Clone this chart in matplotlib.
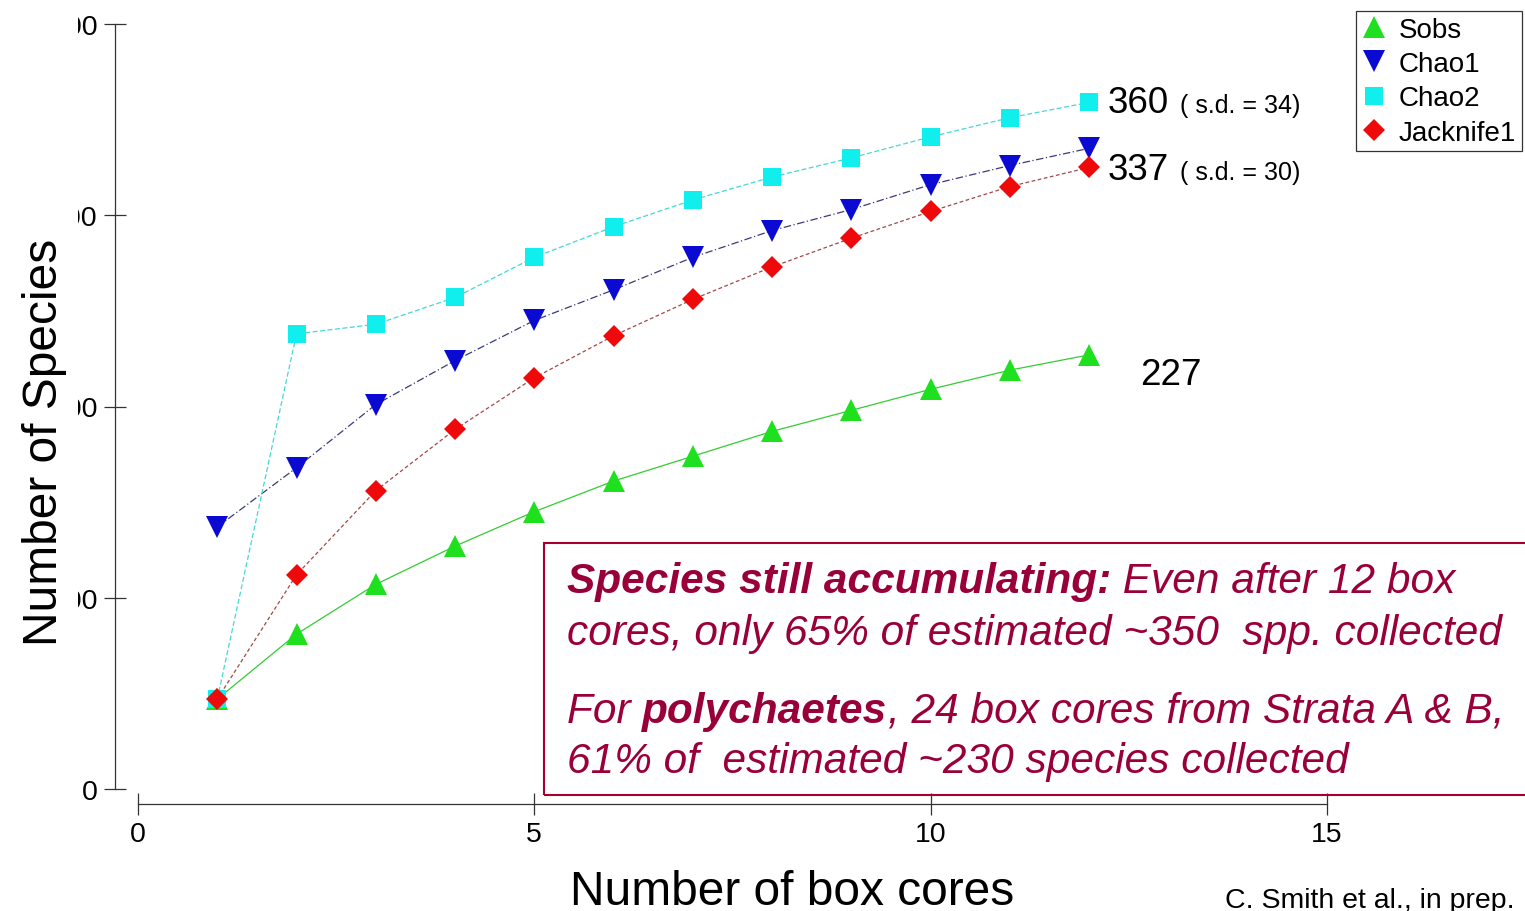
import numpy as np
import matplotlib
matplotlib.use("Agg")
import matplotlib.pyplot as plt
from matplotlib.lines import Line2D
from matplotlib.patches import Rectangle
from matplotlib.transforms import Bbox

plt.rcParams['font.family'] = ['Liberation Sans', 'DejaVu Sans']

# species accumulation data
cores = [1, 2, 3, 4, 5, 6, 7, 8, 9, 10, 11, 12]
sobs = [47, 81, 107, 127, 145, 161, 174, 187, 198, 209, 219, 227]
chao1 = [137, 168, 201, 224, 245, 261, 278, 292, 303, 316, 326, 335]
chao2 = [47, 238, 243, 257, 278, 294, 308, 320, 330, 341, 351, 359]
jack1 = [47, 112, 156, 188, 215, 237, 256, 273, 288, 302, 315, 325]
x_ticks = [0, 5, 10, 15]
y_ticks = [0, 100, 200, 300, 400]

W, H = 1525, 912
fig = plt.figure(figsize=(W / 100, H / 100), dpi=100)


def fx(px):
    return px / W


def fy(py):
    return 1 - py / H


ax = fig.add_axes([fx(138), fy(790), (1525 - 138) / W, (790 - 25) / H])
ax.set_xlim(0, 17.5)
ax.set_ylim(0, 400)

# series: (values, label, marker, marker colour, line colour, line style, marker size)
series = [
    (sobs, 'Sobs', '^', '#1ee01e', '#33cc33', '-', 16),
    (chao1, 'Chao1', 'v', '#0a0ad2', '#3a3a7a', (0, (6, 2, 1, 2)), 16),
    (chao2, 'Chao2', 's', '#11eeee', '#44d8d8', (0, (4, 2)), 13.5),
    (jack1, 'Jacknife1', 'D', '#ee0a0a', '#a04848', (0, (3, 2)), 11),
]

handles = []
for vals, lab, mk, mc, lc, ls, ms in series:
    ax.plot(cores, vals, color=lc, lw=0.9, ls=ls, zorder=2)
    ax.plot(cores, vals, ls='none', marker=mk, ms=ms, mfc=mc, mec=mc, mew=0, zorder=3)
    handles.append(Line2D([], [], ls='none', marker=mk, ms=ms, mfc=mc, mec=mc, mew=0, label=lab))

for s in ['top', 'right']:
    ax.spines[s].set_visible(False)
ax.spines['left'].set_position(('outward', 23 * 0.72))
ax.spines['bottom'].set_position(('outward', 15 * 0.72))
ax.spines['left'].set_bounds(0, 400)
ax.spines['bottom'].set_bounds(0, 15)
for s in ['left', 'bottom']:
    ax.spines[s].set_linewidth(0.9)
    ax.spines[s].set_color('#333333')

ax.set_xticks(x_ticks)
ax.set_yticks(y_ticks)
ax.tick_params(direction='inout', length=16.5, width=0.9, color='#333333',
               labelsize=20.5)
ax.tick_params(axis='x', pad=4)
ax.tick_params(axis='y', pad=4)

ax.set_xlabel('Number of box cores', fontsize=34.5)
ax.xaxis.label.set_va('baseline')
ax.xaxis.set_label_coords((792 - 138) / 1387, (790 - 905) / 765)
ax.set_ylabel('Number of Species', fontsize=34.5)
ax.yaxis.label.set_rotation_mode('anchor')
ax.yaxis.label.set_va('baseline')
ax.yaxis.set_label_coords((57 - 138) / 1387, (790 - 442) / 765)

leg = fig.legend(handles=handles, loc='upper right',
                 bbox_to_anchor=(fx(1522), fy(12)), bbox_transform=fig.transFigure,
                 fontsize=20, frameon=True, fancybox=False, framealpha=1,
                 edgecolor='#333333', borderpad=0.2, labelspacing=0.3,
                 handlelength=0.9, handletextpad=0.45, borderaxespad=0)
leg.get_frame().set_linewidth(0.9)

# end-point annotations
fig.text(fx(1108), fy(113), '360', fontsize=26.5, va='baseline')
fig.text(fx(1180), fy(113), '( s.d. = 34)', fontsize=18, va='baseline')
fig.text(fx(1108), fy(180), '337', fontsize=26.5, va='baseline')
fig.text(fx(1180), fy(180), '( s.d. = 30)', fontsize=18, va='baseline')
fig.text(fx(1140), fy(385), '227', fontsize=26.5, va='baseline')

# message box
red = '#99003a'
fig.add_artist(Rectangle((fx(544), fy(796)), fx(1540 - 544), (796 - 544) / H,
                         transform=fig.transFigure, fill=False, ec='#a8002e',
                         lw=1.5, clip_on=False))


def chain(parts, x, y):
    # write a line made of bold / normal pieces, each one after the previous
    prev = None
    for txt, weight in parts:
        kw = dict(fontsize=30.5, style='italic', weight=weight, color=red)
        if prev is None:
            prev = fig.text(fx(x), fy(y), txt, va='baseline', **kw)
        else:
            prev = ax.annotate(txt, xy=(1, 0), xycoords=prev, va='bottom', ha='left',
                               annotation_clip=False, **kw)


chain([('Species still accumulating:', 'bold'), (' Even after 12 box', 'normal')], 567, 593)
chain([('cores, only 65% of estimated ~350  spp. collected', 'normal')], 567, 645)
chain([('For ', 'normal'), ('polychaetes', 'bold'),
       (', 24 box cores from Strata A & B,', 'normal')], 567, 723)
chain([('61% of  estimated ~230 species collected', 'normal')], 567, 773)

fig.text(fx(1225), fy(908), 'C. Smith et al., in prep.', fontsize=20.5, va='baseline')

# the y tick labels are cut at the left in the original slide
fig.canvas.draw()
clip = Bbox.from_extents(78, 0, W, H)
for lbl in ax.get_yticklabels():
    lbl.set_clip_box(clip)
    lbl.set_clip_on(True)

fig.savefig('out.png', dpi=100)
